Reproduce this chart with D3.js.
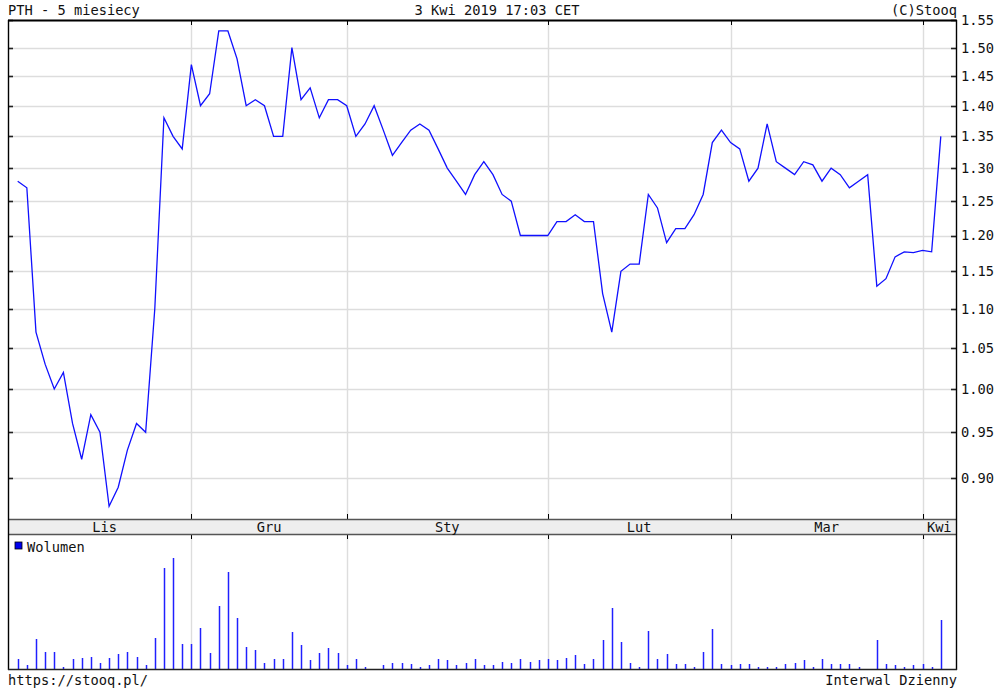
<!DOCTYPE html>
<html><head><meta charset="utf-8">
<script src="https://cdn.jsdelivr.net/npm/d3@7"></script>
<style>
html,body{margin:0;padding:0;background:#fff;}
svg{display:block;}
text{font-family:"DejaVu Sans Mono",monospace;font-size:13.7px;fill:#111;}
</style></head>
<body>
<script>
// ---- data ----
const monthLabels = ["Lis","Gru","Sty","Lut","Mar","Kwi"];
const monthStarts = [0,19,36,58,78,99];
const yTicks = [0.90,0.95,1.00,1.05,1.10,1.15,1.20,1.25,1.30,1.35,1.40,1.45,1.50,1.55];
const prices = [
 1.28,1.27,1.07,1.03,1.00,1.02,0.96,0.92,0.97,0.95,0.87,0.89,0.93,0.96,0.95,1.10,1.38,1.35,1.33,
 1.47,1.40,1.42,1.53,1.53,1.48,1.40,1.41,1.40,1.35,1.35,1.50,1.41,1.43,1.38,1.41,1.41,
 1.40,1.35,1.37,1.40,1.36,1.32,1.34,1.36,1.37,1.36,1.33,1.30,1.28,1.26,1.29,1.31,1.29,1.26,1.25,1.20,1.20,1.20,
 1.20,1.22,1.22,1.23,1.22,1.22,1.12,1.07,1.15,1.16,1.16,1.26,1.24,1.19,1.21,1.21,1.23,1.26,1.34,1.36,
 1.34,1.33,1.28,1.30,1.37,1.31,1.30,1.29,1.31,1.305,1.28,1.30,1.29,1.27,1.28,1.29,1.13,1.14,1.17,1.177,1.176,
 1.179,1.177,1.35
];
const volumes = [
 10,4,30,17,17,2,10,11,12,6,11,15,17,12,4,31,101,111,25,
 25,41,16,63,97,51,22,19,6,10,10,37,24,9,16,21,16,
 4,10,2,0,4,6,6,5,2,4,10,9,4,6,10,4,4,7,6,10,7,9,
 10,9,11,14,5,10,29,61,27,6,2,38,10,15,5,5,2,17,40,5,
 4,5,5,2,2,2,5,6,9,2,10,5,5,5,2,0,29,5,4,2,4,
 5,2,49
];
const titleLeft = "PTH - 5 miesiecy";
const titleCenter = "3 Kwi 2019 17:03 CET";
const titleRight = "(C)Stooq";
const footLeft = "https://stooq.pl/";
const footRight = "Interwal Dzienny";
const legendLabel = "Wolumen";

// ---- layout ----
const W=1000,H=698;
const L=8,R=956,T=20,PB=519,BB=534,VB=669;

const svg = d3.select("body").append("svg").attr("width",W).attr("height",H);

const x = d3.scaleLinear().domain([0,prices.length-1]).range([17.7,940.8]);
const y = d3.scaleLog().domain([0.857,1.55]).range([PB,T]);
const yv = d3.scaleLinear().domain([0,135]).range([VB,BB]);

// band
svg.append("rect").attr("x",L).attr("y",PB).attr("width",R-L).attr("height",BB-PB).attr("fill","#eeeeee");

// horizontal gridlines
svg.append("g").selectAll("line").data(yTicks).join("line")
 .attr("x1",L).attr("x2",R).attr("y1",d=>Math.round(y(d))+0.5).attr("y2",d=>Math.round(y(d))+0.5)
 .attr("stroke","#dddddd").attr("stroke-width",1.6);

// vertical gridlines
const vg = svg.append("g");
monthStarts.slice(1).forEach(i=>{
  const xx = Math.round(x(i))+0.5;
  vg.append("line").attr("x1",xx).attr("x2",xx).attr("y1",T).attr("y2",PB).attr("stroke","#dddddd").attr("stroke-width",1.4);
  vg.append("line").attr("x1",xx).attr("x2",xx).attr("y1",BB).attr("y2",VB).attr("stroke","#dddddd").attr("stroke-width",1.4);
  vg.append("line").attr("x1",xx).attr("x2",xx).attr("y1",T).attr("y2",T+5).attr("stroke","#000");
  vg.append("line").attr("x1",xx).attr("x2",xx).attr("y1",PB-5).attr("y2",PB).attr("stroke","#000");
  vg.append("line").attr("x1",xx).attr("x2",xx).attr("y1",BB).attr("y2",BB+5).attr("stroke","#000");
});

// y ticks inside left and right
const tg = svg.append("g");
yTicks.forEach(v=>{
  const yy = Math.round(y(v))+0.5;
  tg.append("line").attr("x1",L).attr("x2",L+5).attr("y1",yy).attr("y2",yy).attr("stroke","#222").attr("stroke-width",1.6);
  tg.append("line").attr("x1",R-5).attr("x2",R).attr("y1",yy).attr("y2",yy).attr("stroke","#222").attr("stroke-width",1.6);
});

// y labels
svg.append("g").selectAll("text").data(yTicks).join("text")
 .attr("x",R+5).attr("y",d=>y(d)).attr("dy","0.36em").text(d=>d.toFixed(2));

// price line
svg.append("path").datum(prices)
 .attr("d",d3.line().x((d,i)=>x(i)).y(d=>y(d)))
 .attr("fill","none").attr("stroke","#1010ff").attr("stroke-width",1.3);

// volume bars
svg.append("g").selectAll("line").data(volumes).join("line")
 .attr("x1",(d,i)=>Math.round(x(i))+0.5).attr("x2",(d,i)=>Math.round(x(i))+0.5)
 .attr("y1",VB).attr("y2",d=>yv(d))
 .attr("stroke","#2020ff").attr("stroke-width",1.5);

// band borders
svg.append("line").attr("x1",L).attr("x2",R).attr("y1",PB+0.5).attr("y2",PB+0.5).attr("stroke","#555").attr("stroke-width",1.6);
svg.append("line").attr("x1",L).attr("x2",R).attr("y1",BB+0.5).attr("y2",BB+0.5).attr("stroke","#555").attr("stroke-width",1.6);

// month labels (centred between first point / month starts / right edge)
const bounds = monthStarts.map(i=>x(i)).concat([R]);
svg.append("g").selectAll("text").data(monthLabels).join("text")
 .attr("x",(d,i)=>(bounds[i]+bounds[i+1])/2).attr("y",(PB+BB)/2+1).attr("dy","0.36em")
 .attr("text-anchor","middle").text(d=>d);

// frame
svg.append("line").attr("x1",L+0.5).attr("x2",L+0.5).attr("y1",T).attr("y2",VB+1).attr("stroke","#000").attr("stroke-width",1.4);
svg.append("line").attr("x1",R+0.5).attr("x2",R+0.5).attr("y1",T).attr("y2",VB+1).attr("stroke","#000").attr("stroke-width",1.4);
svg.append("line").attr("x1",L).attr("x2",R+1).attr("y1",T+0.5).attr("y2",T+0.5).attr("stroke","#000").attr("stroke-width",2);
svg.append("line").attr("x1",L).attr("x2",R+1).attr("y1",VB+0.5).attr("y2",VB+0.5).attr("stroke","#222").attr("stroke-width",1.6);

// legend
svg.append("rect").attr("x",15).attr("y",542).attr("width",7).attr("height",7).attr("fill","#0000ee").attr("stroke","#000").attr("stroke-width",0.8);
svg.append("text").attr("x",27).attr("y",547).attr("dy","0.36em").text(legendLabel);

// header/footer
svg.append("text").attr("x",L).attr("y",15).text(titleLeft);
svg.append("text").attr("x",497).attr("y",15).attr("text-anchor","middle").text(titleCenter);
svg.append("text").attr("x",R+1).attr("y",15).attr("text-anchor","end").text(titleRight);
svg.append("text").attr("x",L).attr("y",685).text(footLeft);
svg.append("text").attr("x",R+1).attr("y",685).attr("text-anchor","end").text(footRight);
</script>
</body></html>
